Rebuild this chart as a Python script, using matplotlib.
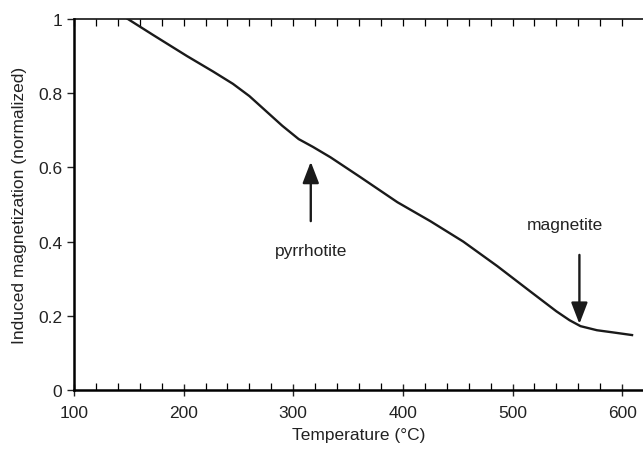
import numpy as np
import matplotlib.pyplot as plt
from matplotlib.ticker import MultipleLocator

plt.rcParams["font.family"] = ["Liberation Sans", "DejaVu Sans"]

# curve
temperature = [149, 172, 203, 227, 245, 260, 275, 290, 305, 318, 334, 361,
               395, 425, 455, 486, 516, 540, 552, 562, 577, 592, 609]
magnetization = [1.0, 0.957, 0.900, 0.858, 0.825, 0.792, 0.752, 0.712,
                 0.676, 0.655, 0.627, 0.574, 0.506, 0.455, 0.400, 0.334,
                 0.266, 0.212, 0.188, 0.172, 0.161, 0.155, 0.148]

labels = ["pyrrhotite", "magnetite"]
arrow_x = [316, 561]
arrow_tail = [0.455, 0.364]
arrow_tip = [0.615, 0.178]
label_x = [316, 548]
label_y = [0.375, 0.447]

fs = 12.5

fig = plt.figure(figsize=(6.43, 4.52), dpi=100)
ax = fig.add_axes([0.115, 0.135, 0.885, 0.821])

ax.plot(temperature, magnetization, color="#1a1a1a", lw=1.7,
        solid_joinstyle="round")

for name, x, y0, y1, lx, ly in zip(labels, arrow_x, arrow_tail, arrow_tip,
                                   label_x, label_y):
    ax.annotate("", xy=(x, y1), xytext=(x, y0),
                arrowprops=dict(arrowstyle="-|>,head_length=1.3,head_width=0.5",
                                color="#1a1a1a", lw=1.7, shrinkA=0, shrinkB=0))
    ax.text(lx, ly, name, ha="center", va="center", fontsize=fs,
            color="#222222")

ax.set_xlim(100, 619)
ax.set_ylim(0, 1)
ax.xaxis.set_major_locator(MultipleLocator(100))
ax.xaxis.set_minor_locator(MultipleLocator(20))
ax.set_yticks([0, 0.2, 0.4, 0.6, 0.8, 1.0])
ax.set_yticklabels(["0", "0.2", "0.4", "0.6", "0.8", "1"])

ax.spines["right"].set_visible(False)
ax.spines["top"].set_visible(False)
for side in ["left", "bottom"]:
    ax.spines[side].set_linewidth(1.8)

ax.tick_params(axis="x", which="major", direction="inout", length=9,
               width=1.0, labelsize=fs, pad=6, colors="#222222")
ax.tick_params(axis="x", which="minor", direction="in", length=5,
               width=0.9)
ax.tick_params(axis="y", which="major", direction="out", length=5,
               width=1.0, labelsize=fs, colors="#222222")

# top edge only carries short inward ticks every 20 degrees
top = ax.secondary_xaxis("top")
top.xaxis.set_major_locator(MultipleLocator(20))
top.tick_params(direction="in", length=5, width=0.9, labeltop=False)
top.spines["top"].set_linewidth(1.1)

ax.set_xlabel("Temperature (°C)", fontsize=fs, color="#222222", labelpad=5)
ax.set_ylabel("Induced magnetization (normalized)", fontsize=fs,
              color="#222222", labelpad=8)

fig.savefig("out.png", dpi=100)
